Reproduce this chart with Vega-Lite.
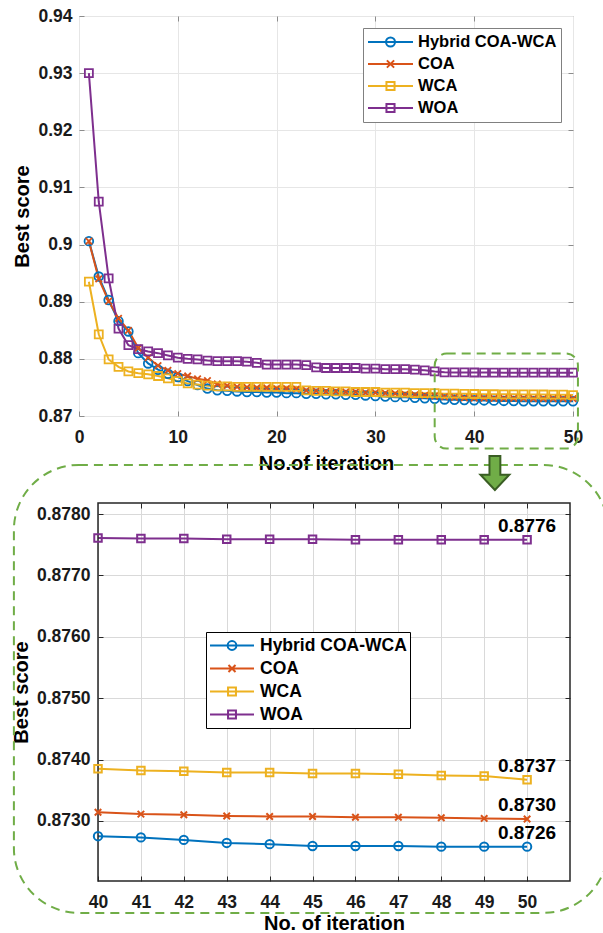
{
"$schema": "https://vega.github.io/schema/vega-lite/v6.json",
"background": "white",
"padding": {"left": 11, "top": 6, "right": 0, "bottom": 0},
"config": {
  "font": "Liberation Sans",
  "axis": {"labelFont": "Liberation Sans", "titleFont": "Liberation Sans", "labelFontWeight": "bold", "titleFontWeight": "bold", "labelColor": "#1a1a1a", "titleColor": "#000000", "labelFlush": false, "labelOverlap": false, "domain": false},
  "legend": {"labelFont": "Liberation Sans", "labelFontWeight": "bold", "labelColor": "#000000"},
  "text": {"font": "Liberation Sans"}
},
"datasets": {"conv": [
{"iter":1,"algo":"Hybrid COA-WCA","score":0.9006},{"iter":2,"algo":"Hybrid COA-WCA","score":0.8944},{"iter":3,"algo":"Hybrid COA-WCA","score":0.8903},{"iter":4,"algo":"Hybrid COA-WCA","score":0.8866},{"iter":5,"algo":"Hybrid COA-WCA","score":0.8848},
{"iter":6,"algo":"Hybrid COA-WCA","score":0.8810},{"iter":7,"algo":"Hybrid COA-WCA","score":0.8792},{"iter":8,"algo":"Hybrid COA-WCA","score":0.8781},{"iter":9,"algo":"Hybrid COA-WCA","score":0.8774},{"iter":10,"algo":"Hybrid COA-WCA","score":0.8768},
{"iter":11,"algo":"Hybrid COA-WCA","score":0.8761},{"iter":12,"algo":"Hybrid COA-WCA","score":0.8754},{"iter":13,"algo":"Hybrid COA-WCA","score":0.8748},{"iter":14,"algo":"Hybrid COA-WCA","score":0.8745},{"iter":15,"algo":"Hybrid COA-WCA","score":0.8744},
{"iter":16,"algo":"Hybrid COA-WCA","score":0.8743},{"iter":17,"algo":"Hybrid COA-WCA","score":0.8742},{"iter":18,"algo":"Hybrid COA-WCA","score":0.8742},{"iter":19,"algo":"Hybrid COA-WCA","score":0.8741},{"iter":20,"algo":"Hybrid COA-WCA","score":0.8741},
{"iter":21,"algo":"Hybrid COA-WCA","score":0.8740},{"iter":22,"algo":"Hybrid COA-WCA","score":0.8740},{"iter":23,"algo":"Hybrid COA-WCA","score":0.8739},{"iter":24,"algo":"Hybrid COA-WCA","score":0.8739},{"iter":25,"algo":"Hybrid COA-WCA","score":0.8738},
{"iter":26,"algo":"Hybrid COA-WCA","score":0.8738},{"iter":27,"algo":"Hybrid COA-WCA","score":0.8737},{"iter":28,"algo":"Hybrid COA-WCA","score":0.8737},{"iter":29,"algo":"Hybrid COA-WCA","score":0.8736},{"iter":30,"algo":"Hybrid COA-WCA","score":0.8735},
{"iter":31,"algo":"Hybrid COA-WCA","score":0.8734},{"iter":32,"algo":"Hybrid COA-WCA","score":0.8733},{"iter":33,"algo":"Hybrid COA-WCA","score":0.8733},{"iter":34,"algo":"Hybrid COA-WCA","score":0.8732},{"iter":35,"algo":"Hybrid COA-WCA","score":0.8731},
{"iter":36,"algo":"Hybrid COA-WCA","score":0.8730},{"iter":37,"algo":"Hybrid COA-WCA","score":0.8729},{"iter":38,"algo":"Hybrid COA-WCA","score":0.87285},{"iter":39,"algo":"Hybrid COA-WCA","score":0.8728},{"iter":40,"algo":"Hybrid COA-WCA","score":0.87275},
{"iter":41,"algo":"Hybrid COA-WCA","score":0.87273},{"iter":42,"algo":"Hybrid COA-WCA","score":0.87269},{"iter":43,"algo":"Hybrid COA-WCA","score":0.87264},{"iter":44,"algo":"Hybrid COA-WCA","score":0.87262},{"iter":45,"algo":"Hybrid COA-WCA","score":0.87259},
{"iter":46,"algo":"Hybrid COA-WCA","score":0.87259},{"iter":47,"algo":"Hybrid COA-WCA","score":0.87259},{"iter":48,"algo":"Hybrid COA-WCA","score":0.87258},{"iter":49,"algo":"Hybrid COA-WCA","score":0.87258},{"iter":50,"algo":"Hybrid COA-WCA","score":0.87258},
{"iter":1,"algo":"COA","score":0.9006},{"iter":2,"algo":"COA","score":0.8940},{"iter":3,"algo":"COA","score":0.8901},{"iter":4,"algo":"COA","score":0.8871},{"iter":5,"algo":"COA","score":0.8850},
{"iter":6,"algo":"COA","score":0.8819},{"iter":7,"algo":"COA","score":0.8802},{"iter":8,"algo":"COA","score":0.8788},{"iter":9,"algo":"COA","score":0.8780},{"iter":10,"algo":"COA","score":0.8774},
{"iter":11,"algo":"COA","score":0.8770},{"iter":12,"algo":"COA","score":0.8765},{"iter":13,"algo":"COA","score":0.8762},{"iter":14,"algo":"COA","score":0.8756},{"iter":15,"algo":"COA","score":0.8753},
{"iter":16,"algo":"COA","score":0.8751},{"iter":17,"algo":"COA","score":0.8750},{"iter":18,"algo":"COA","score":0.8749},{"iter":19,"algo":"COA","score":0.8749},{"iter":20,"algo":"COA","score":0.8748},
{"iter":21,"algo":"COA","score":0.8748},{"iter":22,"algo":"COA","score":0.8747},{"iter":23,"algo":"COA","score":0.8745},{"iter":24,"algo":"COA","score":0.8744},{"iter":25,"algo":"COA","score":0.8743},
{"iter":26,"algo":"COA","score":0.8743},{"iter":27,"algo":"COA","score":0.8742},{"iter":28,"algo":"COA","score":0.8742},{"iter":29,"algo":"COA","score":0.8741},{"iter":30,"algo":"COA","score":0.8741},
{"iter":31,"algo":"COA","score":0.8740},{"iter":32,"algo":"COA","score":0.8739},{"iter":33,"algo":"COA","score":0.8738},{"iter":34,"algo":"COA","score":0.8737},{"iter":35,"algo":"COA","score":0.8736},
{"iter":36,"algo":"COA","score":0.8735},{"iter":37,"algo":"COA","score":0.87333},{"iter":38,"algo":"COA","score":0.87325},{"iter":39,"algo":"COA","score":0.87318},{"iter":40,"algo":"COA","score":0.87314},
{"iter":41,"algo":"COA","score":0.87311},{"iter":42,"algo":"COA","score":0.8731},{"iter":43,"algo":"COA","score":0.87308},{"iter":44,"algo":"COA","score":0.87307},{"iter":45,"algo":"COA","score":0.87307},
{"iter":46,"algo":"COA","score":0.87306},{"iter":47,"algo":"COA","score":0.87306},{"iter":48,"algo":"COA","score":0.87305},{"iter":49,"algo":"COA","score":0.87304},{"iter":50,"algo":"COA","score":0.87303},
{"iter":1,"algo":"WCA","score":0.8935},{"iter":2,"algo":"WCA","score":0.8843},{"iter":3,"algo":"WCA","score":0.8799},{"iter":4,"algo":"WCA","score":0.8786},{"iter":5,"algo":"WCA","score":0.8778},
{"iter":6,"algo":"WCA","score":0.8775},{"iter":7,"algo":"WCA","score":0.8773},{"iter":8,"algo":"WCA","score":0.8770},{"iter":9,"algo":"WCA","score":0.8766},{"iter":10,"algo":"WCA","score":0.8761},
{"iter":11,"algo":"WCA","score":0.8757},{"iter":12,"algo":"WCA","score":0.8755},{"iter":13,"algo":"WCA","score":0.8753},{"iter":14,"algo":"WCA","score":0.8752},{"iter":15,"algo":"WCA","score":0.8752},
{"iter":16,"algo":"WCA","score":0.8751},{"iter":17,"algo":"WCA","score":0.8751},{"iter":18,"algo":"WCA","score":0.8751},{"iter":19,"algo":"WCA","score":0.8751},{"iter":20,"algo":"WCA","score":0.8751},
{"iter":21,"algo":"WCA","score":0.8751},{"iter":22,"algo":"WCA","score":0.8751},{"iter":23,"algo":"WCA","score":0.8745},{"iter":24,"algo":"WCA","score":0.8744},{"iter":25,"algo":"WCA","score":0.8744},
{"iter":26,"algo":"WCA","score":0.8743},{"iter":27,"algo":"WCA","score":0.8743},{"iter":28,"algo":"WCA","score":0.8742},{"iter":29,"algo":"WCA","score":0.8742},{"iter":30,"algo":"WCA","score":0.8742},
{"iter":31,"algo":"WCA","score":0.8741},{"iter":32,"algo":"WCA","score":0.8741},{"iter":33,"algo":"WCA","score":0.8741},{"iter":34,"algo":"WCA","score":0.8740},{"iter":35,"algo":"WCA","score":0.8740},
{"iter":36,"algo":"WCA","score":0.8740},{"iter":37,"algo":"WCA","score":0.8739},{"iter":38,"algo":"WCA","score":0.8739},{"iter":39,"algo":"WCA","score":0.87388},{"iter":40,"algo":"WCA","score":0.87385},
{"iter":41,"algo":"WCA","score":0.87382},{"iter":42,"algo":"WCA","score":0.87381},{"iter":43,"algo":"WCA","score":0.87379},{"iter":44,"algo":"WCA","score":0.87379},{"iter":45,"algo":"WCA","score":0.87377},
{"iter":46,"algo":"WCA","score":0.87377},{"iter":47,"algo":"WCA","score":0.87376},{"iter":48,"algo":"WCA","score":0.87374},{"iter":49,"algo":"WCA","score":0.87373},{"iter":50,"algo":"WCA","score":0.87367},
{"iter":1,"algo":"WOA","score":0.9300},{"iter":2,"algo":"WOA","score":0.9075},{"iter":3,"algo":"WOA","score":0.8941},{"iter":4,"algo":"WOA","score":0.8853},{"iter":5,"algo":"WOA","score":0.8824},
{"iter":6,"algo":"WOA","score":0.8817},{"iter":7,"algo":"WOA","score":0.8813},{"iter":8,"algo":"WOA","score":0.8810},{"iter":9,"algo":"WOA","score":0.8806},{"iter":10,"algo":"WOA","score":0.8802},
{"iter":11,"algo":"WOA","score":0.8800},{"iter":12,"algo":"WOA","score":0.8799},{"iter":13,"algo":"WOA","score":0.8797},{"iter":14,"algo":"WOA","score":0.8796},{"iter":15,"algo":"WOA","score":0.8796},
{"iter":16,"algo":"WOA","score":0.8796},{"iter":17,"algo":"WOA","score":0.8795},{"iter":18,"algo":"WOA","score":0.8793},{"iter":19,"algo":"WOA","score":0.8790},{"iter":20,"algo":"WOA","score":0.8790},
{"iter":21,"algo":"WOA","score":0.8790},{"iter":22,"algo":"WOA","score":0.8790},{"iter":23,"algo":"WOA","score":0.8789},{"iter":24,"algo":"WOA","score":0.8785},{"iter":25,"algo":"WOA","score":0.8784},
{"iter":26,"algo":"WOA","score":0.8784},{"iter":27,"algo":"WOA","score":0.8784},{"iter":28,"algo":"WOA","score":0.8784},{"iter":29,"algo":"WOA","score":0.8783},{"iter":30,"algo":"WOA","score":0.8783},
{"iter":31,"algo":"WOA","score":0.8782},{"iter":32,"algo":"WOA","score":0.8782},{"iter":33,"algo":"WOA","score":0.8782},{"iter":34,"algo":"WOA","score":0.8781},{"iter":35,"algo":"WOA","score":0.8780},
{"iter":36,"algo":"WOA","score":0.8778},{"iter":37,"algo":"WOA","score":0.87765},{"iter":38,"algo":"WOA","score":0.87763},{"iter":39,"algo":"WOA","score":0.87762},{"iter":40,"algo":"WOA","score":0.87761},
{"iter":41,"algo":"WOA","score":0.8776},{"iter":42,"algo":"WOA","score":0.8776},{"iter":43,"algo":"WOA","score":0.87759},{"iter":44,"algo":"WOA","score":0.87759},{"iter":45,"algo":"WOA","score":0.87759},
{"iter":46,"algo":"WOA","score":0.87758},{"iter":47,"algo":"WOA","score":0.87758},{"iter":48,"algo":"WOA","score":0.87758},{"iter":49,"algo":"WOA","score":0.87758},{"iter":50,"algo":"WOA","score":0.87758}
]},
"columns": 1,
"bounds": "full",
"spacing": -23,
"concat": [
{
  "width": 494, "height": 400,
  "view": {"stroke": "#8c8c8c", "strokeWidth": 1},
  "data": {"name": "conv"},
  "resolve": {"axis": {"x": "independent", "y": "independent"}},
  "layer": [
    {"transform": [{"filter": "datum.iter === 1"}],
     "mark": {"type": "point", "filled": false, "size": 2025, "strokeWidth": 2, "opacity": 0},
     "encoding": {
       "x": {"field": "iter", "type": "quantitative", "scale": {"domain": [0, 50], "nice": false, "zero": false}, "axis": {"orient": "top", "values": [10,20,30,40], "labels": false, "title": null, "grid": false, "ticks": true, "tickSize": -5, "tickColor": "#8c8c8c"}},
       "y": {"field": "score", "type": "quantitative", "scale": {"domain": [0.87, 0.94], "nice": false, "zero": false}, "axis": {"orient": "right", "values": [0.88,0.89,0.9,0.91,0.92,0.93], "labels": false, "title": null, "grid": false, "ticks": true, "tickSize": -5, "tickColor": "#8c8c8c"}},
       "color": {"field": "algo", "type": "nominal", "scale": {"domain": ["Hybrid COA-WCA","COA","WCA","WOA"], "range": ["#0072BD","#D95319","#EDB120","#7E2F8E"]},
         "legend": {"title": null, "orient": "top-right", "offset": 12, "padding": 4, "fillColor": "white", "strokeColor": "#808080", "cornerRadius": 0, "labelFontSize": 16.5, "labelOffset": 4, "symbolSize": 2025, "symbolStrokeWidth": 2, "symbolOpacity": 1, "symbolFillColor": "transparent", "clipHeight": 20, "rowPadding": 2}},
       "shape": {"field": "algo", "type": "nominal", "scale": {"domain": ["Hybrid COA-WCA","COA","WCA","WOA"], "range": ["M-1,0H1M0.2,0A0.2,0.2,0,1,1,-0.2,0A0.2,0.2,0,1,1,0.2,0", "M-1,0H1M-0.16,-0.16L0.16,0.16M-0.16,0.16L0.16,-0.16", "M-1,0H1M-0.18,-0.18H0.18V0.18H-0.18Z", "M-1,0H1M-0.18,-0.18H0.18V0.18H-0.18Z"]},
         "legend": {"title": null, "orient": "top-right", "offset": 12, "padding": 4, "fillColor": "white", "strokeColor": "#808080", "cornerRadius": 0, "labelFontSize": 16.5, "labelOffset": 4, "symbolSize": 2025, "symbolStrokeWidth": 2, "symbolOpacity": 1, "symbolFillColor": "transparent", "clipHeight": 20, "rowPadding": 2}}
     }},
    {"mark": {"type": "line", "strokeWidth": 2},
     "encoding": {
       "x": {"field": "iter", "type": "quantitative",
         "axis": {"orient": "bottom", "values": [0,10,20,30,40,50], "format": "d", "title": "No.of iteration", "grid": true, "gridColor": "#e6e6e6", "ticks": true, "tickSize": -5, "tickColor": "#8c8c8c", "labelPadding": 17, "labelFontSize": 17.5, "titleFontSize": 20, "titlePadding": 8}},
       "y": {"field": "score", "type": "quantitative",
         "axis": {"orient": "left", "values": [0.87,0.88,0.89,0.9,0.91,0.92,0.93,0.94], "format": ".2~f", "title": "Best score", "grid": true, "gridColor": "#e6e6e6", "ticks": true, "tickSize": -5, "tickColor": "#8c8c8c", "labelPadding": 12, "labelFontSize": 17.5, "titleFontSize": 20, "titlePadding": 5}},
       "color": {"field": "algo", "type": "nominal", "scale": {"domain": ["Hybrid COA-WCA","COA","WCA","WOA"], "range": ["#0072BD","#D95319","#EDB120","#7E2F8E"]}, "legend": null}
     }},
    {"transform": [{"filter": "datum.algo === 'Hybrid COA-WCA'"}],
     "mark": {"type": "point", "shape": "circle", "filled": false, "size": 75, "strokeWidth": 1.8, "color": "#0072BD", "opacity": 1},
     "encoding": {"x": {"field": "iter", "type": "quantitative", "axis": null}, "y": {"field": "score", "type": "quantitative", "axis": null}}},
    {"transform": [{"filter": "datum.algo === 'COA'"}],
     "mark": {"type": "point", "shape": "M-1,-1L1,1M-1,1L1,-1", "filled": false, "size": 42, "strokeWidth": 1.8, "color": "#D95319", "opacity": 1},
     "encoding": {"x": {"field": "iter", "type": "quantitative", "axis": null}, "y": {"field": "score", "type": "quantitative", "axis": null}}},
    {"transform": [{"filter": "datum.algo === 'WCA' || datum.algo === 'WOA'"}],
     "mark": {"type": "point", "shape": "square", "filled": false, "size": 64, "strokeWidth": 1.8, "opacity": 1},
     "encoding": {"x": {"field": "iter", "type": "quantitative", "axis": null}, "y": {"field": "score", "type": "quantitative", "axis": null},
       "color": {"field": "algo", "type": "nominal", "scale": {"domain": ["Hybrid COA-WCA","COA","WCA","WOA"], "range": ["#0072BD","#D95319","#EDB120","#7E2F8E"]}, "legend": null}}},
    {"data": {"values": [{}]},
     "mark": {"type": "rect", "fill": "transparent", "stroke": "#70AD47", "strokeWidth": 2, "strokeDash": [9, 6], "cornerRadius": 12},
     "encoding": {
       "x": {"datum": 36, "type": "quantitative", "axis": null}, "x2": {"datum": 50.5},
       "y": {"datum": 0.88093, "type": "quantitative", "axis": null}, "y2": {"datum": 0.8643}
     }}
  ]
},
{
  "width": 491, "height": 378,
  "view": {"stroke": null},
  "data": {"name": "conv"},
  "resolve": {"axis": {"x": "independent", "y": "independent"}},
  "layer": [
    {"transform": [{"filter": "datum.iter === 40"}],
     "mark": {"type": "point", "filled": false, "size": 1936, "strokeWidth": 2, "opacity": 0},
     "encoding": {
       "x": {"field": "iter", "type": "quantitative", "scale": {"domain": [40, 51], "range": [19, 491], "nice": false, "zero": false}, "axis": {"orient": "top", "values": [41,42,43,44,45,46,47,48,49,50], "labels": false, "title": null, "grid": false, "ticks": true, "tickSize": -5, "tickColor": "#262626"}},
       "y": {"field": "score", "type": "quantitative", "scale": {"domain": [0.87202, 0.87818], "nice": false, "zero": false}, "axis": {"orient": "right", "values": [0.873,0.874,0.875,0.876,0.877,0.878], "labels": false, "title": null, "grid": false, "ticks": true, "tickSize": -5, "tickColor": "#262626"}},
       "color": {"field": "algo", "type": "nominal", "scale": {"domain": ["Hybrid COA-WCA","COA","WCA","WOA"], "range": ["#0072BD","#D95319","#EDB120","#7E2F8E"]},
         "legend": {"title": null, "orient": "none", "legendX": 127, "legendY": 129, "padding": 3, "fillColor": "white", "strokeColor": "#000000", "cornerRadius": 0, "labelFontSize": 17.5, "labelOffset": 5, "symbolSize": 1936, "symbolStrokeWidth": 2, "symbolOpacity": 1, "symbolFillColor": "transparent", "clipHeight": 21, "rowPadding": 2}},
       "shape": {"field": "algo", "type": "nominal", "scale": {"domain": ["Hybrid COA-WCA","COA","WCA","WOA"], "range": ["M-1,0H1M0.18,0A0.18,0.18,0,1,1,-0.18,0A0.18,0.18,0,1,1,0.18,0", "M-1,0H1M-0.15,-0.15L0.15,0.15M-0.15,0.15L0.15,-0.15", "M-1,0H1M-0.17,-0.17H0.17V0.17H-0.17Z", "M-1,0H1M-0.17,-0.17H0.17V0.17H-0.17Z"]},
         "legend": {"title": null, "orient": "none", "legendX": 127, "legendY": 129, "padding": 3, "fillColor": "white", "strokeColor": "#000000", "cornerRadius": 0, "labelFontSize": 17.5, "labelOffset": 5, "symbolSize": 1936, "symbolStrokeWidth": 2, "symbolOpacity": 1, "symbolFillColor": "transparent", "clipHeight": 21, "rowPadding": 2}}
     }},
    {"transform": [{"filter": "datum.iter >= 40"}],
     "mark": {"type": "line", "strokeWidth": 2},
     "encoding": {
       "x": {"field": "iter", "type": "quantitative",
         "axis": {"orient": "bottom", "values": [40,41,42,43,44,45,46,47,48,49,50], "format": "d", "title": "No. of iteration", "grid": true, "gridColor": "#d9d9d9", "ticks": true, "tickSize": -5, "tickColor": "#262626", "labelPadding": 17, "labelFontSize": 17.5, "titleFontSize": 20, "titlePadding": 3}},
       "y": {"field": "score", "type": "quantitative",
         "axis": {"orient": "left", "offset": -19, "values": [0.873,0.874,0.875,0.876,0.877,0.878], "format": ".4f", "title": "Best score", "grid": true, "gridColor": "#d9d9d9", "ticks": true, "tickSize": -5, "tickColor": "#262626", "labelPadding": 13, "labelFontSize": 17.5, "titleFontSize": 20, "titlePadding": 5}},
       "color": {"field": "algo", "type": "nominal", "scale": {"domain": ["Hybrid COA-WCA","COA","WCA","WOA"], "range": ["#0072BD","#D95319","#EDB120","#7E2F8E"]}, "legend": null}
     }},
    {"data": {"values": [{}]},
     "mark": {"type": "rect", "fill": "transparent", "stroke": "#262626", "strokeWidth": 1.5},
     "encoding": {
       "x": {"datum": 40, "type": "quantitative", "axis": null}, "x2": {"datum": 51},
       "y": {"datum": 0.87818, "type": "quantitative", "axis": null}, "y2": {"datum": 0.87202}
     }},
    {"transform": [{"filter": "datum.iter >= 40 && datum.algo === 'Hybrid COA-WCA'"}],
     "mark": {"type": "point", "shape": "circle", "filled": false, "size": 70, "strokeWidth": 2, "color": "#0072BD", "opacity": 1},
     "encoding": {"x": {"field": "iter", "type": "quantitative", "axis": null}, "y": {"field": "score", "type": "quantitative", "axis": null}}},
    {"transform": [{"filter": "datum.iter >= 40 && datum.algo === 'COA'"}],
     "mark": {"type": "point", "shape": "M-1,-1L1,1M-1,1L1,-1", "filled": false, "size": 42, "strokeWidth": 2, "color": "#D95319", "opacity": 1},
     "encoding": {"x": {"field": "iter", "type": "quantitative", "axis": null}, "y": {"field": "score", "type": "quantitative", "axis": null}}},
    {"transform": [{"filter": "datum.iter >= 40 && (datum.algo === 'WCA' || datum.algo === 'WOA')"}],
     "mark": {"type": "point", "shape": "square", "filled": false, "size": 56, "strokeWidth": 2, "opacity": 1},
     "encoding": {"x": {"field": "iter", "type": "quantitative", "axis": null}, "y": {"field": "score", "type": "quantitative", "axis": null},
       "color": {"field": "algo", "type": "nominal", "scale": {"domain": ["Hybrid COA-WCA","COA","WCA","WOA"], "range": ["#0072BD","#D95319","#EDB120","#7E2F8E"]}, "legend": null}}},
    {"transform": [{"filter": "datum.iter === 50"}],
     "mark": {"type": "text", "align": "center", "baseline": "alphabetic", "dy": -8, "fontSize": 19, "fontWeight": "bold", "color": "#000000"},
     "encoding": {"x": {"field": "iter", "type": "quantitative", "axis": null}, "y": {"field": "score", "type": "quantitative", "axis": null},
       "text": {"field": "score", "type": "quantitative", "format": ".4f"}}},
    {"data": {"values": [{}]},
     "mark": {"type": "rect", "fill": "transparent", "stroke": "#70AD47", "strokeWidth": 2, "strokeDash": [9, 6], "cornerRadius": 65},
     "encoding": {
       "x": {"datum": 38.04, "type": "quantitative", "axis": null}, "x2": {"datum": 51.89},
       "y": {"datum": 0.8788, "type": "quantitative", "axis": null}, "y2": {"datum": 0.8715}
     }},
    {"data": {"values": [{}]},
     "mark": {"type": "point", "shape": "M-0.32,-1L0.32,-1L0.32,0.1L0.85,0.1L0,1L-0.85,0.1L-0.32,0.1Z", "filled": true, "size": 1156, "fill": "#70AD47", "stroke": "#3A5E24", "strokeWidth": 2, "opacity": 1},
     "encoding": {
       "x": {"datum": 49.25, "type": "quantitative", "axis": null},
       "y": {"datum": 0.87867, "type": "quantitative", "axis": null}
     }}
  ]
}
]
}
